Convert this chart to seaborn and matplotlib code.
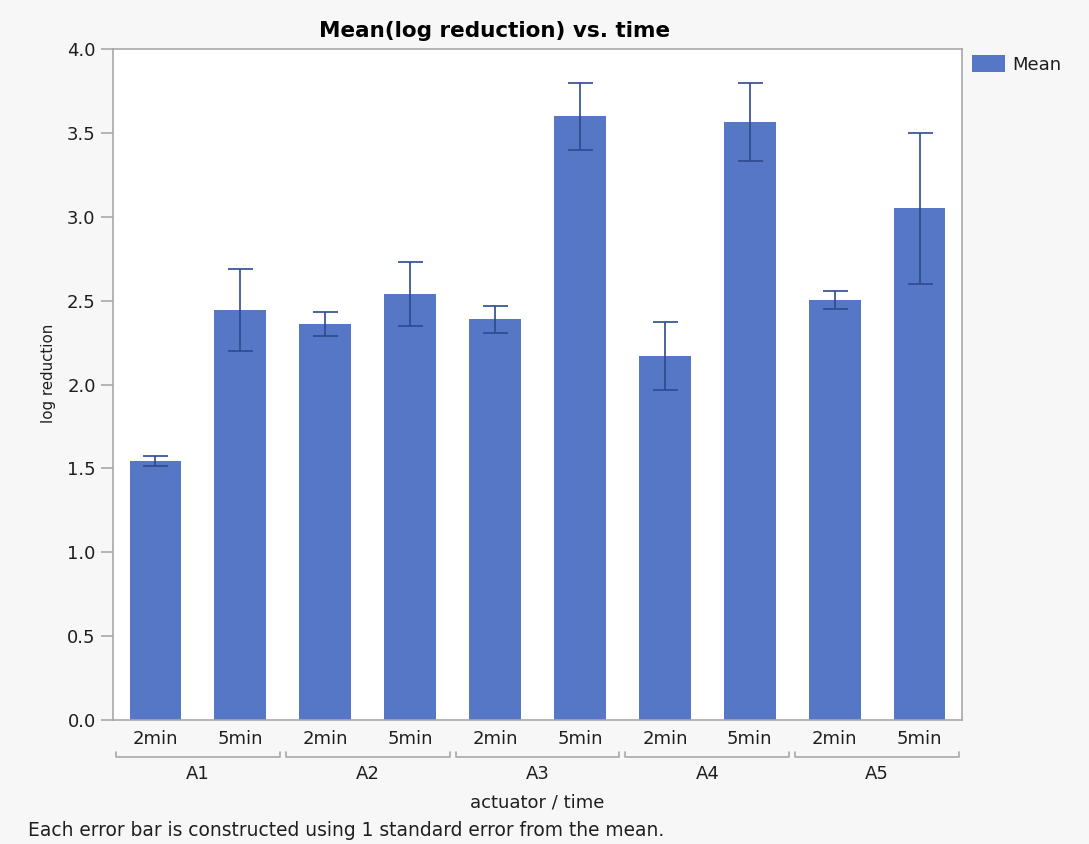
import numpy as np
import pandas as pd
import matplotlib
matplotlib.use('Agg')
import matplotlib.pyplot as plt
import seaborn as sns

# values
actuators = ['A1', 'A2', 'A3', 'A4', 'A5']
times = ['2min', '5min']
means = [1.545, 2.445, 2.36, 2.54, 2.39, 3.60, 2.17, 3.565, 2.505, 3.05]
ses = [0.03, 0.245, 0.07, 0.19, 0.08, 0.20, 0.20, 0.235, 0.055, 0.45]
yticks = [0.0, 0.5, 1.0, 1.5, 2.0, 2.5, 3.0, 3.5, 4.0]

sns.set_style('white')
plt.rcParams['font.family'] = ['DejaVu Sans']

bar_color = '#5677c6'
err_color = '#2e4a8e'
spine_color = '#a8a8a8'
text_color = '#1e1e1e'
fs = 13

df = pd.DataFrame({
    'actuator': np.repeat(actuators, len(times)),
    'time': times * len(actuators),
    'mean': means,
    'se': ses,
})
df['bar'] = df['actuator'] + ' ' + df['time']

fig = plt.figure(figsize=(10.89, 8.44), dpi=100, facecolor='#f7f7f7')
ax = fig.add_axes([0.1038, 0.1469, 0.7796, 0.795])
ax.set_facecolor('white')

sns.barplot(data=df, x='bar', y='mean', color=bar_color, saturation=1,
            width=0.61, errorbar=None, linewidth=0, label='Mean', ax=ax)
ax.errorbar(x=np.arange(len(df)), y=df['mean'], yerr=df['se'], fmt='none',
            ecolor=err_color, elinewidth=1.2, capsize=9, capthick=1.2)

ax.set_ylim(0, 4.0)
ax.set_xlim(-0.5, len(df) - 0.5)
ax.set_yticks(yticks)
ax.set_yticklabels([f'{t:.1f}' for t in yticks], fontsize=fs, color=text_color)
ax.set_xticks(np.arange(len(df)))
ax.set_xticklabels(df['time'], fontsize=fs, color=text_color)
ax.tick_params(axis='y', length=9, width=1.2, color=spine_color, pad=3.5, left=True)
ax.tick_params(axis='x', length=0, pad=7)
for s in ax.spines.values():
    s.set_color(spine_color)
    s.set_linewidth(1.2)

ax.set_ylabel('log reduction', fontsize=10.8, color=text_color, labelpad=8)
ax.yaxis.label.set_y(0.517)
ax.set_xlabel('')
ax.set_title('Mean(log reduction) vs. time', fontsize=15.5, fontweight='bold',
             color='black', pad=9, x=0.449)

# grouped axis: brackets and actuator labels under the time labels
trans = ax.get_xaxis_transform()
for i, a in enumerate(actuators):
    x0 = 2 * i - 0.5 + 0.035
    x1 = 2 * i + 1.5 - 0.035
    ax.plot([x0, x0, x1, x1], [-0.048, -0.055, -0.055, -0.048], transform=trans,
            color=spine_color, lw=1.2, clip_on=False)
    ax.text(2 * i + 0.5, -0.08, a, transform=trans, ha='center', va='center',
            fontsize=fs, color=text_color)
ax.text(4.5, -0.123, 'actuator / time', transform=trans, ha='center',
        va='center', fontsize=fs, color=text_color)

fig.text(28 / 1089, 1 - 831 / 844, 'Each error bar is constructed using 1 standard error from the mean.',
         ha='left', va='center', fontsize=13.4, color=text_color)

ax.legend(loc='upper left', bbox_to_anchor=(1.004, 1.0), frameon=False,
          fontsize=fs, handlelength=1.85, handleheight=1.0, handletextpad=0.4,
          borderaxespad=0, borderpad=0.35, labelcolor=text_color)

fig.savefig('out.png', dpi=100, facecolor=fig.get_facecolor())
